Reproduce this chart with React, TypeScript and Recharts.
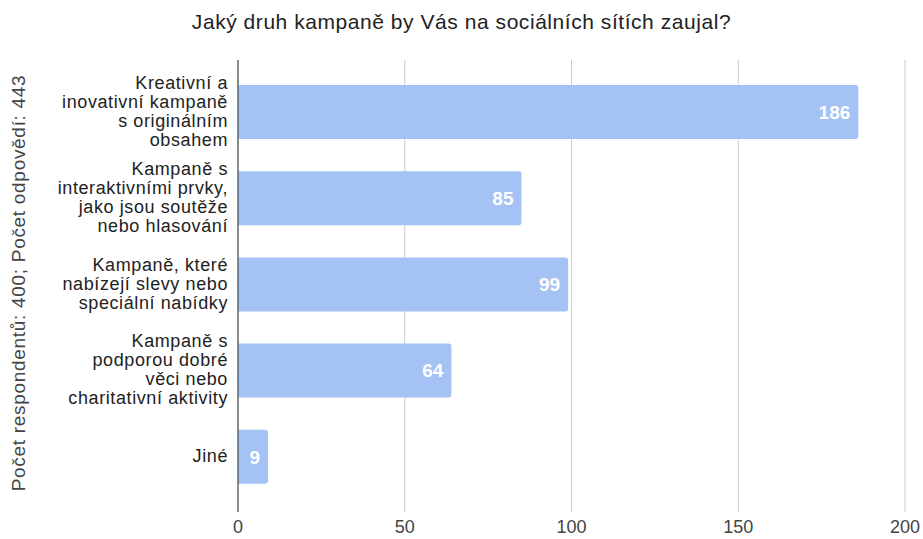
import { BarChart, Bar, XAxis, YAxis, CartesianGrid, LabelList } from 'recharts'

const categories = [
  'Kreativní a\ninovativní kampaně\ns originálním\nobsahem',
  'Kampaně s\ninteraktivními prvky,\njako jsou soutěže\nnebo hlasování',
  'Kampaně, které\nnabízejí slevy nebo\nspeciální nabídky',
  'Kampaně s\npodporou dobré\nvěci nebo\ncharitativní aktivity',
  'Jiné',
]
const counts = [186, 85, 99, 64, 9]
const xTicks = [0, 50, 100, 150, 200]

const title = 'Jaký druh kampaně by Vás na sociálních sítích zaujal?'
const yTitle = 'Počet respondentů: 400; Počet odpovědí: 443'

const data = categories.map((c, i) => ({ name: c, value: counts[i] }))

const FONT = '"Liberation Sans", Arial, sans-serif'

// multi-line category tick, right aligned against the axis
const CategoryTick = ({ x, y, payload }: any) => {
  const lines = String(payload.value).split('\n')
  const lh = 19
  return (
    <text x={x} y={y} textAnchor="end" fill="#222" fontSize={18} fontFamily={FONT} letterSpacing={0.6}>
      {lines.map((l, i) => (
        <tspan key={i} x={x} dy={i === 0 ? -((lines.length - 1) / 2) * lh + 5 : lh}>
          {l}
        </tspan>
      ))}
    </text>
  )
}

const YTitle = ({ viewBox }: any) => {
  const cx = viewBox.x + 18
  const cy = viewBox.y + viewBox.height / 2 - 3
  return (
    <text
      x={cx}
      y={cy}
      transform={`rotate(-90 ${cx} ${cy})`}
      textAnchor="middle"
      dominantBaseline="central"
      fill="#444"
      fontSize={19}
      letterSpacing={0.7}
      fontFamily={FONT}
    >
      {yTitle}
    </text>
  )
}

export default function App() {
  return (
    <div style={{ position: 'absolute', left: 0, top: 0, width: 923, height: 539, background: '#fff' }}>
      <div style={{
        position: 'absolute', left: 0, top: 8, width: 923, textAlign: 'center',
        fontFamily: FONT, fontSize: 21, color: '#222', lineHeight: '28px', letterSpacing: 0.55,
      }}>
        {title}
      </div>
      <BarChart
        width={923}
        height={539}
        data={data}
        layout="vertical"
        margin={{ top: 60, right: 18, left: 0, bottom: 0 }}
      >
        <CartesianGrid horizontal={false} stroke="#ccc" />
        <XAxis
          type="number"
          domain={[0, 200]}
          ticks={xTicks}
          axisLine={false}
          tickLine={false}
          tickSize={0}
          tickMargin={8}
          height={27}
          interval={0}
          tick={{ fill: '#444', fontSize: 18, fontFamily: FONT }}
        />
        <YAxis
          type="category"
          dataKey="name"
          width={238}
          padding={{ top: 9, bottom: 12 }}
          axisLine={{ stroke: '#333' }}
          tickLine={false}
          tickSize={0}
          tickMargin={10}
          interval={0}
          tick={<CategoryTick />}
          label={{ content: <YTitle /> }}
        />
        <Bar dataKey="value" fill="#a4c2f4" barSize={54} radius={[0, 3, 3, 0]} isAnimationActive={false}>
          <LabelList
            dataKey="value"
            position="insideRight"
            offset={8}
            fill="#fff"
            fontSize={19}
            fontWeight="bold"
            fontFamily={FONT}
          />
        </Bar>
      </BarChart>
    </div>
  )
}
